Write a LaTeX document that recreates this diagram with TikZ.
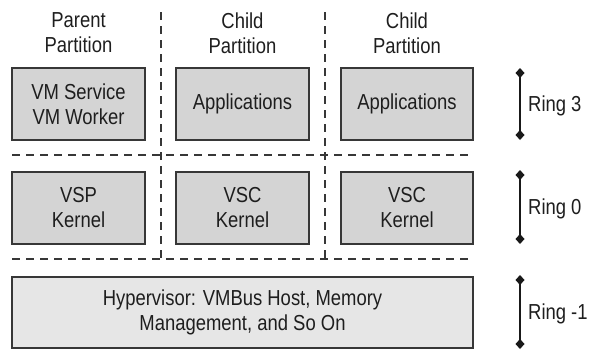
\documentclass[tikz,border=0pt]{standalone}
\usepackage{fontspec}
\setmainfont{Liberation Sans}[FakeStretch=0.85]
\usetikzlibrary{arrows.meta}
\definecolor{boxfill}{RGB}{212,212,212}
\definecolor{hvfill}{RGB}{230,230,230}
\definecolor{edge}{RGB}{55,55,55}
\definecolor{txt}{RGB}{30,30,30}
\tikzset{
  layerbox/.style={draw=edge, line width=1.2pt, fill=boxfill, text=txt, align=center, inner sep=0pt, font=\fontsize{21.7}{25}\selectfont},
  hvbox/.style={layerbox, fill=hvfill},
  header/.style={text=txt, align=center, font=\fontsize{21.7}{25}\selectfont},
  sep/.style={draw=edge, line width=1.1pt, dash pattern=on 8pt off 6pt},
  ring/.style={draw=black!90, line width=2.5pt, {Diamond[length=10pt,width=9pt]}-{Diamond[length=10pt,width=9pt]}},
  ringlabel/.style={text=txt, anchor=west, inner sep=0pt, font=\fontsize{21.7}{25}\selectfont},
}
\begin{document}
\begin{tikzpicture}[x=1pt,y=-1pt]
\useasboundingbox (0,0) rectangle (590,351);
% headers
\node[header] (h1) at (78.5,33) {Parent\\Partition};
\node[header] (h2) at (242.5,33) {Child\\Partition};
\node[header] (h3) at (407,33) {Child\\Partition};
% separators
\coordinate (v1t) at (161,12);
\coordinate (v1b) at (161,259);
\coordinate (v2t) at (325,12);
\coordinate (v2b) at (325,259);
\coordinate (s1l) at (12,155);
\coordinate (s1r) at (470,155);
\coordinate (s2l) at (12,259);
\coordinate (s2r) at (470,259);
\draw[sep] (v1t) -- (v1b);
\draw[sep] (v2t) -- (v2b);
\draw[sep] (s1l) -- (s1r);
\draw[sep] (s2l) -- (s2r);
% ring 3 boxes
\node[layerbox, minimum width=133pt, minimum height=72pt] (a1) at (78.5,104) {VM Service\\VM Worker};
\node[layerbox, minimum width=133pt, minimum height=72pt] (a2) at (242.5,104) {Applications};
\node[layerbox, minimum width=132pt, minimum height=72pt] (a3) at (407,104) {Applications};
% ring 0 boxes
\node[layerbox, minimum width=133pt, minimum height=72pt] (k1) at (78.5,208) {VSP\\Kernel};
\node[layerbox, minimum width=133pt, minimum height=72pt] (k2) at (242.5,208) {VSC\\Kernel};
\node[layerbox, minimum width=132pt, minimum height=72pt] (k3) at (407,208) {VSC\\Kernel};
% hypervisor
\node[hvbox, minimum width=461pt, minimum height=71pt] (hv) at (242.5,312.5) {Hypervisor: VMBus Host, Memory\\Management, and So On};
% rings
\coordinate (r3t) at (520,68);
\coordinate (r3b) at (520,140);
\coordinate (r0t) at (520,170);
\coordinate (r0b) at (520,244);
\coordinate (rmt) at (520,275);
\coordinate (rmb) at (520,349);
\draw[ring] (r3t) -- (r3b);
\draw[ring] (r0t) -- (r0b);
\draw[ring] (rmt) -- (rmb);
\node[ringlabel] (l3) at (528,106) {Ring 3};
\node[ringlabel] (l0) at (528,209) {Ring 0};
\node[ringlabel] (lm) at (528,314) {Ring -1};
\end{tikzpicture}
\end{document}
